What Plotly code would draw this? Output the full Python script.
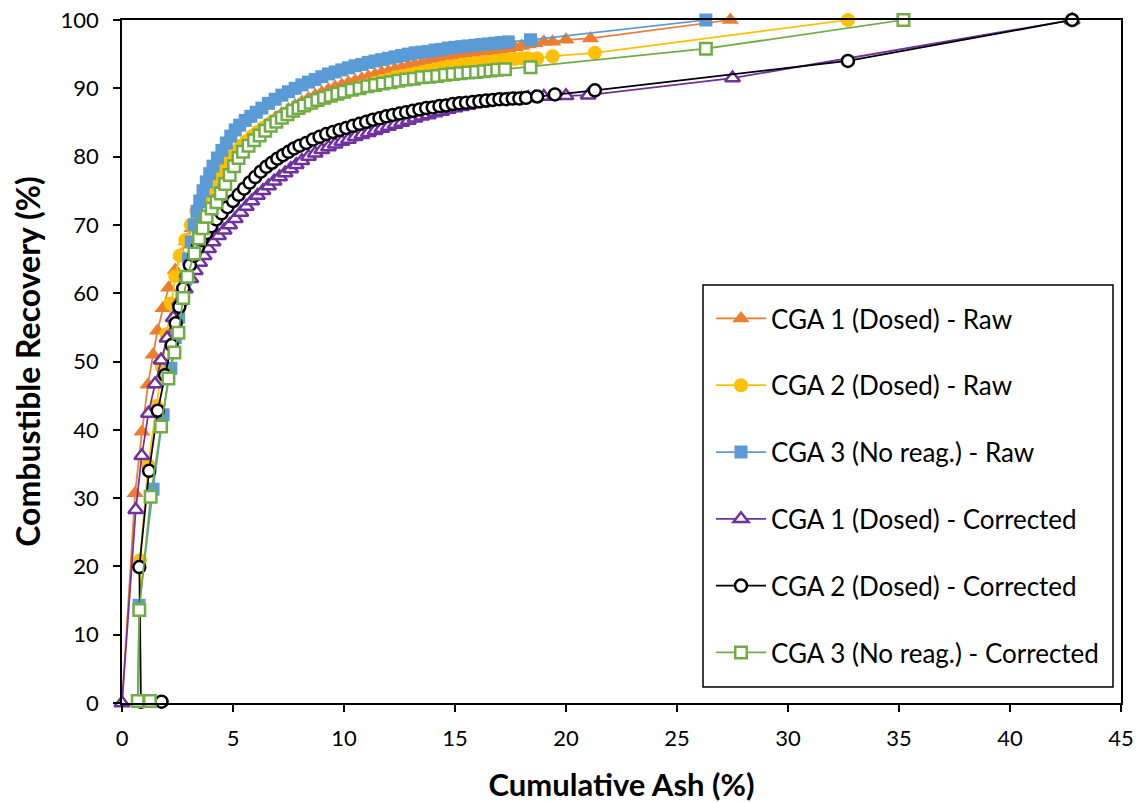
import plotly.graph_objects as go

# ---------------- data ----------------
ash_cga1_raw = [0, 0.59, 0.9, 1.17, 1.4, 1.6, 1.85, 2.1, 2.4, 2.65, 2.9, 3.15, 3.4, 3.65, 3.9, 4.15,
                4.4, 4.65, 4.9, 5.15, 5.4, 5.7, 6.0, 6.3, 6.6, 6.9, 7.2, 7.5, 7.8, 8.1, 8.4, 8.7,
                9.0, 9.3, 9.6, 9.9, 10.2, 10.5, 10.8, 11.1, 11.4, 11.7, 12.0, 12.3, 12.6, 12.9, 13.2, 13.5,
                13.8, 14.1, 14.4, 14.7, 15.0, 15.3, 15.6, 15.9, 16.2, 16.5, 16.8, 17.1, 17.4, 17.7, 18.0, 18.3,
                18.6, 19.0, 19.4, 20.0, 21.1, 27.4]
rec_cga1_raw = [0, 30.7, 39.7, 46.6, 51.0, 54.5, 57.8, 60.8, 63.4, 65.6, 67.6, 69.5, 71.3, 73.0, 74.5, 75.9,
                77.2, 78.4, 79.5, 80.5, 81.4, 82.4, 83.3, 84.1, 84.9, 85.6, 86.3, 86.9, 87.5, 88.0, 88.5, 89.0,
                89.4, 89.8, 90.2, 90.5, 90.8, 91.1, 91.4, 91.7, 92.0, 92.3, 92.5, 92.8, 93.0, 93.3, 93.5, 93.7,
                93.9, 94.1, 94.3, 94.5, 94.7, 94.8, 95.0, 95.1, 95.3, 95.4, 95.5, 95.6, 95.8, 96.0, 96.2, 96.4,
                96.6, 96.8, 96.8, 97.1, 97.3, 100]

ash_cga2_raw = [1.78, 0.85, 0.81, 1.18, 1.55, 1.8, 2.0, 2.2, 2.4, 2.6, 2.85, 3.1, 3.35, 3.6, 3.85, 4.1,
                4.35, 4.6, 4.85, 5.1, 5.35, 5.6, 5.85, 6.1, 6.35, 6.6, 6.85, 7.1, 7.35, 7.6, 7.85, 8.1,
                8.4, 8.7, 9.0, 9.3, 9.6, 9.9, 10.2, 10.5, 10.8, 11.1, 11.4, 11.7, 12.0, 12.3, 12.6, 12.9,
                13.2, 13.5, 13.8, 14.1, 14.4, 14.7, 15.0, 15.3, 15.6, 15.9, 16.2, 16.5, 16.8, 17.1, 17.4, 17.7,
                18.0, 18.3, 18.7, 19.4, 21.3, 32.7]
rec_cga2_raw = [0.2, 0.2, 20.9, 34.8, 43.5, 49.2, 54.0, 58.5, 62.5, 65.5, 67.8, 70.0, 72.0, 73.8, 75.3, 76.6,
                77.8, 78.9, 79.9, 80.8, 81.6, 82.3, 83.0, 83.6, 84.2, 84.7, 85.2, 85.6, 86.0, 86.4, 86.8, 87.2,
                87.6, 88.0, 88.4, 88.7, 89.0, 89.3, 89.6, 89.9, 90.2, 90.5, 90.8, 91.1, 91.3, 91.6, 91.8, 92.0,
                92.2, 92.4, 92.6, 92.8, 93.0, 93.2, 93.3, 93.5, 93.6, 93.7, 93.8, 93.9, 94.0, 94.1, 94.2, 94.3,
                94.4, 94.4, 94.4, 94.7, 95.2, 100]

ash_cga3_raw = [1.26, 0.71, 0.77, 1.4, 1.85, 2.2, 2.4, 2.55, 2.7, 2.85, 3.0, 3.12, 3.25, 3.38, 3.5, 3.65,
                3.8, 3.95, 4.1, 4.3, 4.5, 4.7, 4.9, 5.1, 5.3, 5.55, 5.8, 6.05, 6.3, 6.6, 6.9, 7.2,
                7.5, 7.8, 8.1, 8.4, 8.7, 9.0, 9.3, 9.6, 9.9, 10.2, 10.5, 10.8, 11.1, 11.4, 11.7, 12.0,
                12.3, 12.6, 12.9, 13.2, 13.5, 13.8, 14.1, 14.4, 14.7, 15.0, 15.3, 15.6, 15.9, 16.2, 16.5, 16.8,
                17.1, 17.4, 18.4, 26.3]
rec_cga3_raw = [0.2, 0.3, 14.3, 31.3, 42.2, 49.0, 53.5, 56.5, 59.5, 62.0, 65.0, 67.5, 70.0, 72.0, 73.5, 75.0,
                76.3, 77.5, 78.6, 79.8, 80.9, 82.0, 83.0, 83.9, 84.6, 85.3, 85.9, 86.5, 87.1, 87.8, 88.4, 89.0,
                89.5, 90.0, 90.5, 90.9, 91.3, 91.7, 92.1, 92.4, 92.7, 93.0, 93.3, 93.5, 93.8, 94.0, 94.2, 94.4,
                94.6, 94.8, 95.0, 95.2, 95.3, 95.4, 95.6, 95.7, 95.9, 96.0, 96.1, 96.2, 96.3, 96.4, 96.5, 96.6,
                96.7, 96.8, 97.1, 100]

ash_cga1_cor = [0, 0.62, 0.89, 1.19, 1.49, 1.76, 2.03, 2.31, 2.6, 2.85, 3.1, 3.3, 3.5, 3.7, 3.9, 4.1,
                4.35, 4.6, 4.85, 5.1, 5.35, 5.6, 5.85, 6.1, 6.35, 6.6, 6.85, 7.1, 7.35, 7.6, 7.85, 8.1,
                8.4, 8.7, 9.0, 9.3, 9.6, 9.9, 10.2, 10.5, 10.8, 11.1, 11.4, 11.7, 12.0, 12.3, 12.6, 12.9,
                13.2, 13.5, 13.8, 14.1, 14.4, 14.7, 15.0, 15.3, 15.6, 15.9, 16.2, 16.5, 16.8, 17.1, 17.4, 17.7,
                18.0, 18.3, 18.6, 19.0, 19.5, 20.0, 21.0, 27.5, 42.8]
rec_cga1_cor = [0, 28.3, 36.2, 42.4, 46.7, 50.2, 53.4, 56.4, 58.8, 60.6, 62.1, 63.3, 64.5, 65.5, 66.5, 67.5,
                68.4, 69.2, 70.0, 70.9, 71.8, 72.7, 73.5, 74.3, 75.0, 75.7, 76.4, 77.0, 77.6, 78.2, 78.8, 79.4,
                80.0, 80.5, 81.0, 81.4, 81.8, 82.2, 82.5, 82.9, 83.2, 83.5, 83.8, 84.1, 84.4, 84.7, 85.0, 85.3,
                85.6, 85.9, 86.1, 86.4, 86.6, 86.9, 87.1, 87.3, 87.5, 87.7, 87.8, 88.0, 88.1, 88.2, 88.3, 88.4,
                88.5, 88.6, 88.7, 88.8, 88.9, 88.9, 89.0, 91.5, 100]

ash_cga2_cor = [1.78, 0.85, 0.78, 1.22, 1.61, 1.94, 2.24, 2.42, 2.58, 2.76, 2.92, 3.06, 3.25, 3.42, 3.59, 3.8,
                4.02, 4.25, 4.49, 4.75, 5.0, 5.25, 5.5, 5.75, 6.0, 6.25, 6.5, 6.75, 7.0, 7.25, 7.5, 7.75,
                8.0, 8.3, 8.6, 8.9, 9.2, 9.5, 9.8, 10.1, 10.4, 10.7, 11.0, 11.3, 11.6, 11.9, 12.2, 12.5,
                12.8, 13.1, 13.4, 13.7, 14.0, 14.3, 14.6, 14.9, 15.2, 15.5, 15.8, 16.1, 16.4, 16.7, 17.0, 17.3,
                17.6, 17.9, 18.2, 18.7, 19.5, 21.3, 32.7, 42.8]
rec_cga2_cor = [0.2, 0.2, 19.9, 34.0, 42.8, 48.0, 52.4, 55.6, 58.0, 60.7, 62.5, 64.1, 65.5, 66.7, 67.8, 68.8,
                69.8, 70.8, 71.7, 72.6, 73.5, 74.4, 75.3, 76.2, 77.0, 77.8, 78.5, 79.1, 79.7, 80.2, 80.7, 81.2,
                81.6, 82.0, 82.5, 82.9, 83.3, 83.6, 83.9, 84.2, 84.5, 84.8, 85.1, 85.4, 85.6, 85.9, 86.1, 86.3,
                86.5, 86.7, 86.9, 87.1, 87.2, 87.4, 87.5, 87.7, 87.8, 87.9, 88.0, 88.1, 88.2, 88.3, 88.4, 88.4,
                88.5, 88.5, 88.6, 88.8, 89.1, 89.7, 94.0, 100]

ash_cga3_cor = [1.26, 0.71, 0.78, 1.29, 1.76, 2.09, 2.36, 2.54, 2.76, 2.94, 3.26, 3.47, 3.63, 3.81, 4.04, 4.26,
                4.45, 4.65, 4.85, 5.05, 5.25, 5.45, 5.7, 5.95, 6.2, 6.45, 6.7, 6.95, 7.2, 7.45, 7.7, 7.95,
                8.2, 8.5, 8.8, 9.1, 9.4, 9.7, 10.0, 10.35, 10.7, 11.05, 11.4, 11.75, 12.1, 12.45, 12.8, 13.15,
                13.5, 13.85, 14.2, 14.55, 14.9, 15.25, 15.6, 15.95, 16.3, 16.6, 16.9, 17.25, 18.4, 26.3, 35.2]
rec_cga3_cor = [0.3, 0.3, 13.6, 30.2, 40.5, 47.5, 51.3, 54.2, 59.3, 62.4, 65.8, 68.0, 69.5, 71.2, 72.4, 73.3,
                74.6, 76.0, 77.3, 78.6, 79.8, 80.7, 81.6, 82.4, 83.1, 83.8, 84.5, 85.1, 85.7, 86.2, 86.7, 87.1,
                87.5, 87.9, 88.3, 88.6, 88.9, 89.2, 89.5, 89.8, 90.0, 90.3, 90.5, 90.7, 90.9, 91.1, 91.3, 91.4,
                91.6, 91.7, 91.8, 92.0, 92.1, 92.2, 92.3, 92.4, 92.5, 92.6, 92.7, 92.8, 93.1, 95.8, 100]

series_names = ["CGA 1 (Dosed) - Raw", "CGA 2 (Dosed) - Raw", "CGA 3 (No reag.) - Raw",
                "CGA 1 (Dosed) - Corrected", "CGA 2 (Dosed) - Corrected", "CGA 3 (No reag.) - Corrected"]

x_ticks = [0, 5, 10, 15, 20, 25, 30, 35, 40, 45]
y_ticks = [0, 10, 20, 30, 40, 50, 60, 70, 80, 90, 100]

# ---------------- styles ----------------
FONT = "Lato"
styles = [
    dict(color="#ED7D31", symbol="triangle-up", size=15, fill="#ED7D31", lw=0),
    dict(color="#FFC000", symbol="circle", size=14, fill="#FFC000", lw=0),
    dict(color="#5B9BD5", symbol="square", size=13, fill="#5B9BD5", lw=0),
    dict(color="#7030A0", symbol="triangle-up", size=13, fill="#FFFFFF", lw=2.5),
    dict(color="#000000", symbol="circle", size=12, fill="#FFFFFF", lw=2.5),
    dict(color="#70AD47", symbol="square", size=11.5, fill="#FFFFFF", lw=2.5),
]
xs = [ash_cga1_raw, ash_cga2_raw, ash_cga3_raw, ash_cga1_cor, ash_cga2_cor, ash_cga3_cor]
ys = [rec_cga1_raw, rec_cga2_raw, rec_cga3_raw, rec_cga1_cor, rec_cga2_cor, rec_cga3_cor]

fig = go.Figure()
for i, (name, x, y, st) in enumerate(zip(series_names, xs, ys, styles)):
    fig.add_trace(go.Scatter(
        x=x, y=y, name=name, mode="lines+markers",
        line=dict(color=st["color"], width=1.75),
        marker=dict(symbol=st["symbol"], size=st["size"], color=st["fill"],
                    line=dict(color=st["color"], width=st["lw"])),
        cliponaxis=False, legendgroup=f"g{i}",
    ))

axis_common = dict(
    showgrid=False, zeroline=False, showline=True, linecolor="black", linewidth=1.5,
    mirror=True, ticks="outside", ticklen=7, tickwidth=1.5, tickcolor="black",
    tickfont=dict(family=FONT, size=22, color="black"), automargin=False,
    ticklabeloverflow="allow",
)

# plot area at x 122-1121, y 20-703 of the window (body margin removed below)
ML, MR, MT, MB = 122, 21, 20, 100
plot_w = 1142 - ML - MR
plot_h = 803 - MT - MB

# legend frame (window px) -> paper coords
box_l, box_r, box_t, box_b = 703, 1113, 285, 687
def px_to_paper_x(px):
    return (px - ML) / plot_w
def px_to_paper_y(py):
    return 1 - (py - MT) / plot_h

fig.update_layout(
    width=1142, height=803,
    margin=dict(l=ML, r=MR, t=MT, b=MB),
    plot_bgcolor="white", paper_bgcolor="white",
    font=dict(family=FONT, color="black"),
    xaxis=dict(range=[0, 45], tickvals=x_ticks, ticktext=[str(v) for v in x_ticks],
               title=dict(text="<b>Cumulative Ash (%)</b>", font=dict(family=FONT, size=31, color="black"),
                          standoff=24),
               ticklabelstandoff=8, **axis_common),
    yaxis=dict(range=[0, 100], tickvals=y_ticks, ticktext=[str(v) for v in y_ticks],
               title=dict(text="<b>Combustible Recovery (%)</b>", font=dict(family=FONT, size=32, color="black"),
                          standoff=10),
               ticklabelstandoff=10, **axis_common),
    shapes=[dict(type="rect", xref="paper", yref="paper",
                 x0=px_to_paper_x(box_l), x1=px_to_paper_x(box_r),
                 y0=px_to_paper_y(box_b), y1=px_to_paper_y(box_t),
                 line=dict(color="black", width=1.5), fillcolor="white", layer="above")],
    legend=dict(x=px_to_paper_x(711), y=px_to_paper_y(295), xanchor="left", yanchor="top",
                bgcolor="rgba(0,0,0,0)", borderwidth=0,
                font=dict(family=FONT, size=26, color="black"),
                tracegroupgap=30, itemwidth=50, traceorder="grouped"),
    showlegend=True,
)

fig.write_html("out.html", config={"displayModeBar": False},
               post_script="document.body.style.margin='0';document.body.style.overflow='hidden';")
